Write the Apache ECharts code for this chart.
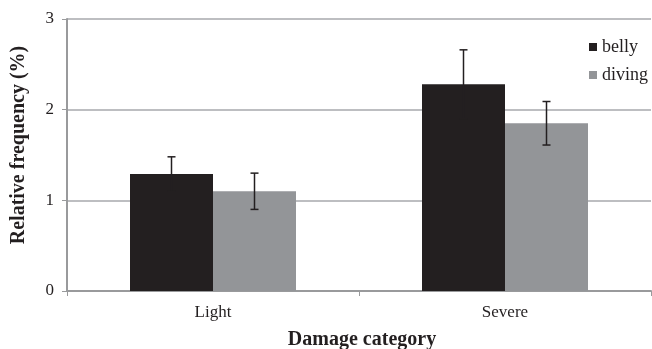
<!DOCTYPE html>
<html><head><meta charset="utf-8">
<script src="https://cdn.jsdelivr.net/npm/echarts@6/dist/echarts.min.js"></script>
<style>html,body{margin:0;padding:0;background:#fff}#c{width:652px;height:349px}</style>
</head><body><div id="c"></div>
<script>
var categories = ['Light', 'Severe'];
var bellyValues = [1.29, 2.28];
var bellyErrors = [0.19, 0.38];
var divingValues = [1.10, 1.85];
var divingErrors = [0.20, 0.24];
var yTicks = [0, 1, 2, 3];

var chart = echarts.init(document.getElementById('c'));
var BW = 83;
var font = 'Liberation Serif';
function errData(vals, errs) {
  return vals.map(function (v, i) { return [i, v - errs[i], v + errs[i]]; });
}
function errSeries(name, vals, errs, off) {
  return {
    type: 'custom', name: name + ' err', z: 5,
    data: errData(vals, errs),
    renderItem: function (params, api) {
      var lo = api.coord([api.value(0), api.value(1)]);
      var hi = api.coord([api.value(0), api.value(2)]);
      var x = lo[0] + off;
      var h = 4;
      var st = { stroke: '#231f20', lineWidth: 1.5 };
      return { type: 'group', children: [
        { type: 'line', shape: { x1: x, y1: lo[1], x2: x, y2: hi[1] }, style: st },
        { type: 'line', shape: { x1: x - h, y1: lo[1], x2: x + h, y2: lo[1] }, style: st },
        { type: 'line', shape: { x1: x - h, y1: hi[1], x2: x + h, y2: hi[1] }, style: st }
      ]};
    }
  };
}
chart.setOption({
  animation: false,
  grid: { left: 67, right: 1, top: 19, bottom: 58, containLabel: false, outerBoundsMode: 'none' },
  legend: {
    data: ['belly', 'diving'], orient: 'vertical', left: 584, top: 33,
    itemWidth: 8, itemHeight: 8, itemGap: 10, icon: 'rect',
    textStyle: { fontFamily: font, fontSize: 18, color: '#231f20' }
  },
  xAxis: {
    type: 'category', data: categories,
    name: 'Damage category', nameLocation: 'middle', nameGap: 39,
    nameTextStyle: { fontFamily: font, fontSize: 20, fontWeight: 'bold', color: '#231f20', padding: [0, 0, 0, 6] },
    axisLine: { lineStyle: { color: '#999a9c', width: 2 } },
    axisTick: { show: true, length: 5, lineStyle: { color: '#999a9c' } },
    axisLabel: { fontFamily: font, fontSize: 17, color: '#231f20', margin: 13 }
  },
  yAxis: {
    type: 'value', min: 0, max: 3, interval: 1,
    name: 'Relative frequency (%)', nameLocation: 'middle', nameGap: 38,
    nameTextStyle: { fontFamily: font, fontSize: 20, fontWeight: 'bold', color: '#231f20', padding: [0, 0, 0, 20] },
    axisLine: { show: true, lineStyle: { color: '#999a9c', width: 2 } },
    axisTick: { show: true, length: 5, lineStyle: { color: '#999a9c' } },
    axisLabel: { fontFamily: font, fontSize: 17, color: '#231f20', margin: 13,
      formatter: function (v) { return yTicks.indexOf(v) >= 0 ? String(v) : ''; } },
    splitLine: { lineStyle: { color: '#a7a9ac', width: 1.5 } }
  },
  series: [
    { type: 'bar', name: 'belly', data: bellyValues, barWidth: BW, barGap: '0%', itemStyle: { color: '#231f20' } },
    { type: 'bar', name: 'diving', data: divingValues, barWidth: BW, barGap: '0%', itemStyle: { color: '#939598' } },
    errSeries('belly', bellyValues, bellyErrors, -BW / 2),
    errSeries('diving', divingValues, divingErrors, BW / 2)
  ]
});
</script></body></html>
